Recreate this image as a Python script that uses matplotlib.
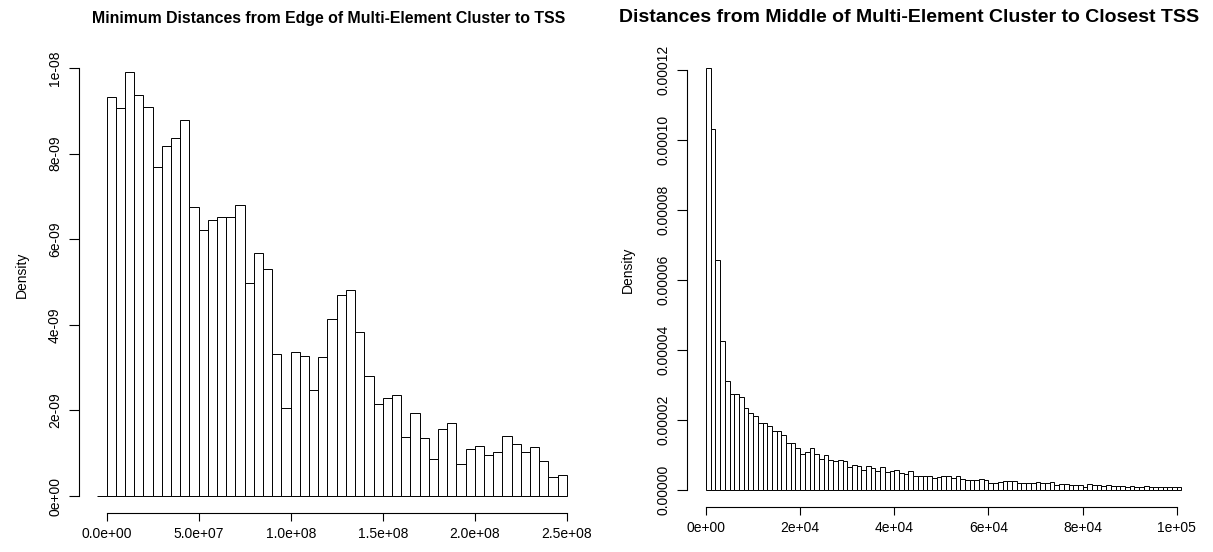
import numpy as np
import matplotlib
matplotlib.use("Agg")
import matplotlib.pyplot as plt

plt.rcParams['font.family'] = ['Liberation Sans', 'DejaVu Sans']

W, H = 1213, 552

# Left histogram: minimum edge distances, bins of 5e6 starting at -5e6 (density, x1e-9)
edge_bin_width = 5e6
edge_first_break = -5e6
edge_density = [
    0.0,
    9.32, 9.07, 9.91, 9.36, 9.09, 7.70, 8.17, 8.37, 8.79, 6.76,
    6.22, 6.46, 6.52, 6.53, 6.81, 4.98, 5.68, 5.31, 3.33, 2.06,
    3.37, 3.28, 2.47, 3.26, 4.14, 4.70, 4.81, 3.84, 2.80, 2.14,
    2.28, 2.35, 1.39, 1.95, 1.35, 0.86, 1.57, 1.71, 0.76, 1.09,
    1.16, 0.97, 1.02, 1.40, 1.21, 1.02, 1.14, 0.81, 0.44, 0.48,
]
edge_xticks = [0, 5e7, 1e8, 1.5e8, 2e8, 2.5e8]
edge_xlabels = ["0.0e+00", "5.0e+07", "1.0e+08", "1.5e+08", "2.0e+08", "2.5e+08"]
edge_yticks = [0, 2e-9, 4e-9, 6e-9, 8e-9, 1e-8]
edge_ylabels = ["0e+00", "2e-09", "4e-09", "6e-09", "8e-09", "1e-08"]

# Right histogram: distance from cluster middle to closest TSS, bins of 1000 (density, x1e-5)
mid_bin_width = 1000
mid_density = [
    12.05, 10.32, 6.57, 4.26, 3.12, 2.76, 2.74, 2.66, 2.36, 2.21,
    2.13, 1.91, 1.91, 1.83, 1.68, 1.69, 1.58, 1.36, 1.36, 1.19,
    1.04, 1.09, 1.20, 1.02, 0.89, 1.00, 0.87, 0.84, 0.85, 0.84,
    0.67, 0.71, 0.69, 0.58, 0.70, 0.62, 0.55, 0.67, 0.53, 0.55,
    0.57, 0.48, 0.45, 0.55, 0.41, 0.41, 0.41, 0.41, 0.35, 0.38,
    0.39, 0.39, 0.35, 0.39, 0.33, 0.28, 0.29, 0.29, 0.33, 0.29,
    0.21, 0.19, 0.24, 0.25, 0.25, 0.26, 0.20, 0.19, 0.20, 0.20,
    0.23, 0.19, 0.20, 0.23, 0.16, 0.17, 0.17, 0.15, 0.14, 0.14,
    0.09, 0.18, 0.16, 0.15, 0.12, 0.16, 0.13, 0.11, 0.13, 0.10,
    0.12, 0.09, 0.10, 0.11, 0.09, 0.08, 0.10, 0.08, 0.08, 0.09,
    0.08,
]
mid_xticks = [0, 2e4, 4e4, 6e4, 8e4, 1e5]
mid_xlabels = ["0e+00", "2e+04", "4e+04", "6e+04", "8e+04", "1e+05"]
mid_yticks = [0, 2e-5, 4e-5, 6e-5, 8e-5, 1e-4, 1.2e-4]
mid_ylabels = ["0.00000", "0.00002", "0.00004", "0.00006", "0.00008", "0.00010", "0.00012"]


def px_axes(fig, left, top, right, bottom):
    return fig.add_axes([left / W, 1 - bottom / H, (right - left) / W, (bottom - top) / H])


def r_hist(ax, breaks, dens, xticks, xlabels, yticks, ylabels):
    ax.bar(breaks[:-1], dens, width=np.diff(breaks), align='edge',
           facecolor='white', edgecolor='black', linewidth=0.7)
    # R-style 4% padding around the data range
    span = breaks[-1] - breaks[0]
    ax.set_xlim(breaks[0] - 0.04 * span, breaks[-1] + 0.04 * span)
    top = max(dens)
    ax.set_ylim(-0.04 * top, 1.04 * top)
    for s in ['top', 'right']:
        ax.spines[s].set_visible(False)
    ax.spines['bottom'].set_bounds(xticks[0], xticks[-1])
    ax.spines['left'].set_bounds(yticks[0], yticks[-1])
    for s in ['bottom', 'left']:
        ax.spines[s].set_linewidth(0.8)
    ax.set_xticks(xticks)
    ax.set_xticklabels(xlabels, fontsize=10)
    ax.set_yticks(yticks)
    ax.set_yticklabels(ylabels, fontsize=10, rotation=90, va='center')
    ax.tick_params(axis='x', direction='out', length=6, width=0.8, pad=4)
    ax.tick_params(axis='y', direction='out', length=7, width=0.8, pad=5)


fig = plt.figure(figsize=(W / 100, H / 100), dpi=100)

ax1 = px_axes(fig, 78.7, 55, 585.5, 513)
edge_breaks = edge_first_break + edge_bin_width * np.arange(len(edge_density) + 1)
r_hist(ax1, edge_breaks, np.array(edge_density) * 1e-9,
       edge_xticks, edge_xlabels, edge_yticks, edge_ylabels)
fig.text(329 / W, 1 - 18 / H, "Minimum Distances from Edge of Multi-Element Cluster to TSS",
         ha='center', va='center', fontsize=11.4, fontweight='bold')
fig.text(22 / W, 1 - 275 / H, "Density", rotation=90, ha='center', va='center', fontsize=10)

ax2 = px_axes(fig, 687, 51.5, 1200.5, 507)
mid_breaks = mid_bin_width * np.arange(len(mid_density) + 1)
r_hist(ax2, mid_breaks, np.array(mid_density) * 1e-5,
       mid_xticks, mid_xlabels, mid_yticks, mid_ylabels)
fig.text(909 / W, 1 - 18 / H, "Distances from Middle of Multi-Element Cluster to Closest TSS",
         ha='center', va='center', fontsize=14, fontweight='bold')
fig.text(628 / W, 1 - 270 / H, "Density", rotation=90, ha='center', va='center', fontsize=10)

fig.savefig("out.png", dpi=100, facecolor='white')
